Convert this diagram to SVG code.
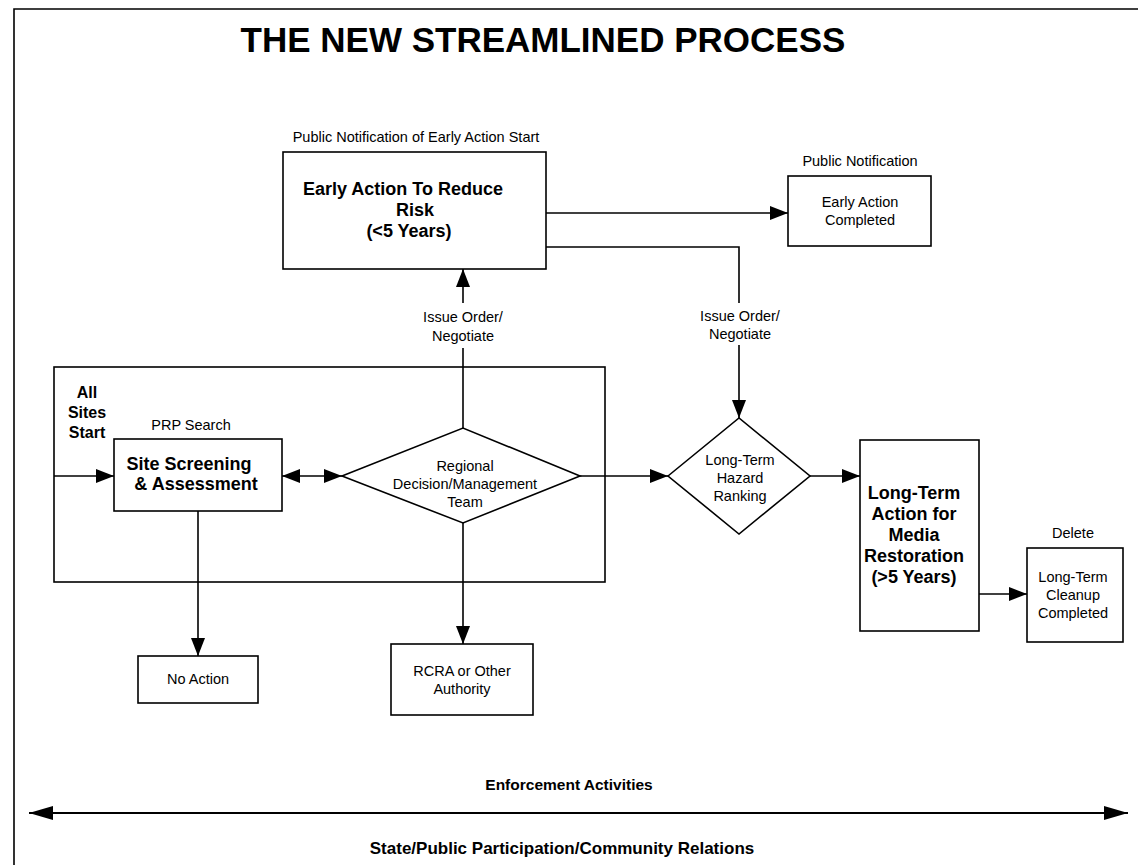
<svg xmlns="http://www.w3.org/2000/svg" width="1138" height="865" viewBox="0 0 1138 865">
<defs>
<style>
text{font-family:"Liberation Sans",Arial,Helvetica,sans-serif;fill:#000;text-anchor:middle}
.n{font-size:14.5px}
.b{font-size:18px;font-weight:bold}
.s{font-size:16px;font-weight:bold}
.t{font-size:35px;font-weight:bold}
.f{font-size:15.5px;font-weight:bold}
.f2{font-size:17px;font-weight:bold}
.box{fill:#fff;stroke:#000;stroke-width:1.6}
.grp{fill:none;stroke:#000;stroke-width:1.6}
.ln{fill:none;stroke:#000;stroke-width:1.6}
.ar{fill:none;stroke:#000;stroke-width:1.6;marker-end:url(#ah)}
.da{fill:none;stroke:#000;stroke-width:1.6;marker-end:url(#ah);marker-start:url(#ah)}
.big{fill:none;stroke:#000;stroke-width:2;marker-end:url(#ah2);marker-start:url(#ah2)}
</style>
<marker id="ah" markerUnits="userSpaceOnUse" markerWidth="18" markerHeight="14" refX="18" refY="7" orient="auto-start-reverse" viewBox="0 0 18 14">
<path d="M0,0 L18,7 L0,14 z" fill="#000"/>
</marker>
<marker id="ah2" markerUnits="userSpaceOnUse" markerWidth="24" markerHeight="14" refX="24" refY="7" orient="auto-start-reverse" viewBox="0 0 24 14">
<path d="M0,0 L24,7 L0,14 z" fill="#000"/>
</marker>
</defs>
<rect width="1138" height="865" fill="#fff"/>
<g id="frame">
<path class="ln" d="M14,865 V9 H1138"/>
</g>
<g id="title"><text class="t" x="543" y="52">THE NEW STREAMLINED PROCESS</text></g>

<g id="group-box"><rect class="grp" x="54" y="367" width="551" height="215"/></g>

<g id="connectors">
<path class="ar" d="M546,213 H788"/>
<path class="ln" d="M546,247 H739 V303"/>
<path class="ar" d="M739,345 V418"/>
<path class="ln" d="M463,428 V348"/>
<path class="ar" d="M463,303 V269"/>
<path class="ar" d="M54,476 H114"/>
<path class="da" d="M282,476 H342"/>
<path class="ar" d="M580,476 H668"/>
<path class="ar" d="M810,476 H860"/>
<path class="ar" d="M979,594 H1027"/>
<path class="ar" d="M198,511 V656"/>
<path class="ar" d="M463,523 V644"/>
<path class="big" d="M29,813 H1128"/>
</g>

<g id="labels">
<text class="n" x="463" y="322">Issue Order/</text>
<text class="n" x="463" y="341">Negotiate</text>
<text class="n" x="740" y="321">Issue Order/</text>
<text class="n" x="740" y="339">Negotiate</text>
<text class="f" x="569" y="790">Enforcement Activities</text>
<text class="f2" x="562" y="854">State/Public Participation/Community Relations</text>
</g>

<g id="early-action">
<text class="n" x="416" y="142">Public Notification of Early Action Start</text>
<rect class="box" x="283" y="152" width="263" height="117"/>
<text class="b" x="403" y="195">Early Action To Reduce</text>
<text class="b" x="415" y="216">Risk</text>
<text class="b" x="409" y="237">(&lt;5 Years)</text>
</g>

<g id="early-action-completed">
<text class="n" x="860" y="166">Public Notification</text>
<rect class="box" x="788" y="176" width="143" height="70"/>
<text class="n" x="860" y="207">Early Action</text>
<text class="n" x="860" y="225">Completed</text>
</g>

<g id="all-sites-start">
<text class="s" x="87" y="398">All</text>
<text class="s" x="87" y="418">Sites</text>
<text class="s" x="87" y="438">Start</text>
</g>

<g id="site-screening">
<text class="n" x="191" y="430">PRP Search</text>
<rect class="box" x="114" y="439" width="168" height="72"/>
<text class="b" x="189" y="470">Site Screening</text>
<text class="b" x="196" y="490">&amp; Assessment</text>
</g>

<g id="regional-team">
<polygon class="box" points="342,476 463,428 580,476 463,523"/>
<text class="n" x="465" y="471">Regional</text>
<text class="n" x="465" y="489">Decision/Management</text>
<text class="n" x="465" y="507">Team</text>
</g>

<g id="hazard-ranking">
<polygon class="box" points="668,476 739,418 810,476 739,534"/>
<text class="n" x="740" y="465">Long-Term</text>
<text class="n" x="740" y="483">Hazard</text>
<text class="n" x="740" y="501">Ranking</text>
</g>

<g id="long-term-action">
<rect class="box" x="860" y="440" width="119" height="191"/>
<text class="b" x="914" y="499">Long-Term</text>
<text class="b" x="914" y="520">Action for</text>
<text class="b" x="914" y="541">Media</text>
<text class="b" x="914" y="562">Restoration</text>
<text class="b" x="914" y="583">(&gt;5 Years)</text>
</g>

<g id="cleanup-completed">
<text class="n" x="1073" y="538">Delete</text>
<rect class="box" x="1027" y="548" width="96" height="94"/>
<text class="n" x="1073" y="582">Long-Term</text>
<text class="n" x="1073" y="600">Cleanup</text>
<text class="n" x="1073" y="618">Completed</text>
</g>

<g id="no-action">
<rect class="box" x="138" y="656" width="120" height="47"/>
<text class="n" x="198" y="684">No Action</text>
</g>

<g id="rcra">
<rect class="box" x="391" y="644" width="142" height="71"/>
<text class="n" x="462" y="676">RCRA or Other</text>
<text class="n" x="462" y="694">Authority</text>
</g>
</svg>
